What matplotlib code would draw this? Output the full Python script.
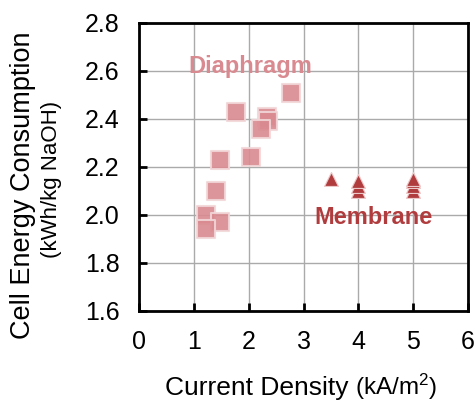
import matplotlib
matplotlib.use("Agg")
import matplotlib.pyplot as plt

plt.rcParams['font.family'] = ['Liberation Sans', 'DejaVu Sans']

# Diaphragm cells
dia_x = [2.78, 1.77, 2.33, 2.36, 2.22, 2.04, 1.48, 1.41, 1.22, 1.48, 1.22]
dia_y = [2.51, 2.43, 2.41, 2.39, 2.36, 2.24, 2.23, 2.10, 2.00, 1.97, 1.94]
# Membrane cells
mem_x = [3.5, 4.0, 4.0, 4.0, 5.0, 5.0, 5.0, 5.0]
mem_y = [2.15, 2.10, 2.12, 2.14, 2.10, 2.12, 2.14, 2.15]

xticks = [0, 1, 2, 3, 4, 5, 6]
yticks = [1.6, 1.8, 2.0, 2.2, 2.4, 2.6, 2.8]

pink = '#d98a90'
dark = '#b03c3e'

fig = plt.figure(figsize=(4.77, 4.03), dpi=100)
ax = fig.add_axes([139/477, 1 - 311/403, 329/477, 288/403])

ax.scatter(dia_x, dia_y, marker='s', s=150, color=pink, alpha=0.9,
           edgecolors='#f2d6d8', linewidths=1.5, zorder=3)
ax.scatter(mem_x, mem_y, marker='^', s=100, color=dark,
           edgecolors='#ecc8c8', linewidths=0.8, zorder=3)

ax.text(2.03, 2.62, 'Diaphragm', color=pink, fontsize=17, fontweight='bold',
        ha='center', va='center')
ax.text(4.27, 1.99, 'Membrane', color=dark, fontsize=17, fontweight='bold',
        ha='center', va='center')

ax.set_xlim(0, 6)
ax.set_ylim(1.6, 2.8)
ax.set_xticks(xticks)
ax.set_yticks(yticks)
ax.set_yticklabels([f'{v:.1f}' for v in yticks])
ax.tick_params(direction='in', length=6, width=2, labelsize=18, pad=14)
ax.grid(True, color='#aaaaaa', linewidth=1)
ax.set_axisbelow(True)
for sp in ax.spines.values():
    sp.set_linewidth(2)

fig.text(165/477, 1 - 395/403, 'Current Density', fontsize=19,
         ha='left', va='baseline')
fig.text(355/477, 1 - 395/403, '(kA/m$\\mathregular{^2}$)', fontsize=17.5,
         ha='left', va='baseline')
fig.text(23/477, 1 - 185/403, 'Cell Energy Consumption', rotation=90, fontsize=19.5,
         ha='center', va='center')
fig.text(52/477, 1 - 179/403, '(kWh/kg NaOH)', rotation=90, fontsize=16,
         ha='center', va='center')

fig.savefig('out.png', dpi=100)
